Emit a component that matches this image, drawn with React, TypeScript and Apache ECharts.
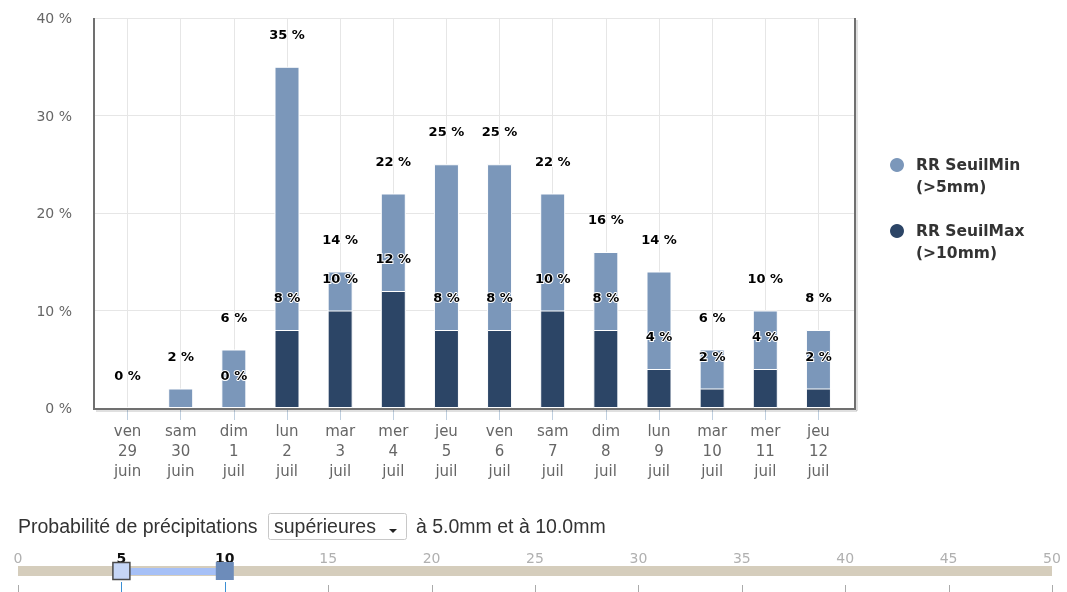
import React, { useEffect, useRef } from "react";
import * as echarts from "echarts";

const categories = [
  "ven\n29\njuin", "sam\n30\njuin", "dim\n1\njuil", "lun\n2\njuil", "mar\n3\njuil",
  "mer\n4\njuil", "jeu\n5\njuil", "ven\n6\njuil", "sam\n7\njuil", "dim\n8\njuil",
  "lun\n9\njuil", "mar\n10\njuil", "mer\n11\njuil", "jeu\n12\njuil",
];
const seuilMin = [0, 2, 6, 35, 14, 22, 25, 25, 22, 16, 14, 6, 10, 8];
const seuilMax = [0, 0, 0, 8, 10, 12, 8, 8, 10, 8, 4, 2, 4, 2];
const seriesNames = ["RR SeuilMin", "RR SeuilMax"];
const seriesSub = ["(>5mm)", "(>10mm)"];
const sliderTicks = [0, 5, 10, 15, 20, 25, 30, 35, 40, 45, 50];
const sliderRange = [5, 10];

const COLOR_MIN = "#7b97ba";
const COLOR_MAX = "#2c4566";
const FONT = "DejaVu Sans";
const FONT2 = "Liberation Sans";

export default function App() {
  const ref = useRef<HTMLDivElement>(null);
  useEffect(() => {
    if (!ref.current) return;
    const chart = echarts.init(ref.current, null, { renderer: "svg" });

    const labelStyle = {
      show: true,
      position: "top",
      distance: 26,
      formatter: "{c} %",
      fontFamily: FONT,
      fontWeight: "bold",
      fontSize: 13,
      color: "#000",
      textBorderColor: "#fff",
      textBorderWidth: 2,
    };

    const maxData = seuilMax.map((v, i) => {
      const d = seuilMin[i] - v;
      if (d > 0 && d < 3) return { value: v, label: { show: false } };
      return v;
    });

    // slider geometry
    const sx0 = 18, sx1 = 1052;
    const sx = (v: number) => sx0 + (v / 50) * (sx1 - sx0);
    const graphics: any[] = [];

    // plot frame (with soft shadow lines)
    const shadowCol = "rgba(0,0,0,0.12)";
    graphics.push({ type: "line", shape: { x1: 857, y1: 20, x2: 857, y2: 411 }, style: { stroke: shadowCol, lineWidth: 2 }, z: 10 });
    graphics.push({ type: "line", shape: { x1: 96, y1: 411, x2: 857, y2: 411 }, style: { stroke: shadowCol, lineWidth: 2 }, z: 10 });
    graphics.push({ type: "line", shape: { x1: 94, y1: 18, x2: 94, y2: 409 }, style: { stroke: "#707070", lineWidth: 2 }, z: 11 });
    graphics.push({ type: "line", shape: { x1: 93, y1: 409, x2: 856, y2: 409 }, style: { stroke: "#707070", lineWidth: 2 }, z: 11 });
    graphics.push({ type: "line", shape: { x1: 855, y1: 18, x2: 855, y2: 410 }, style: { stroke: "#707070", lineWidth: 2 }, z: 11 });

    // legend
    const legendColors = [COLOR_MIN, COLOR_MAX];
    const legendY = [165, 231];
    seriesNames.forEach((n, i) => {
      graphics.push({ type: "circle", shape: { cx: 897, cy: legendY[i], r: 7 }, style: { fill: legendColors[i] } });
      graphics.push({ type: "text", x: 916, y: legendY[i], style: { text: n, fontFamily: FONT, fontWeight: "bold", fontSize: 15.5, fill: "#333", verticalAlign: "middle" } });
      graphics.push({ type: "text", x: 916, y: legendY[i] + 22, style: { text: seriesSub[i], fontFamily: FONT, fontWeight: "bold", fontSize: 15.5, fill: "#333", verticalAlign: "middle" } });
    });

    // bottom controls
    const ctl = { fontFamily: FONT2, fontSize: 19.5, fill: "#333", verticalAlign: "middle" };
    graphics.push({ type: "text", x: 18, y: 526, style: { text: "Probabilité de précipitations", ...ctl } });
    graphics.push({ type: "rect", shape: { x: 268.5, y: 513.5, width: 138, height: 26, r: 2 }, style: { fill: "#fff", stroke: "#c8c8c8", lineWidth: 1 } });
    graphics.push({ type: "text", x: 274, y: 526, style: { text: "supérieures", ...ctl } });
    graphics.push({ type: "polygon", shape: { points: [[389, 529], [397, 529], [393, 533]] }, style: { fill: "#222" } });
    graphics.push({ type: "text", x: 416, y: 526, style: { text: "à 5.0mm et à 10.0mm", ...ctl } });

    // slider
    sliderTicks.forEach((t) => {
      const sel = sliderRange.includes(t);
      graphics.push({
        type: "text", x: sx(t), y: 558,
        style: { text: String(t), fontFamily: FONT, fontSize: 14, fontWeight: sel ? "bold" : "normal", fill: sel ? "#111" : "#b0b0b0", align: "center", verticalAlign: "middle" },
      });
      graphics.push({
        type: "line",
        shape: { x1: Math.round(sx(t)) + 0.5, y1: sel ? 582 : 585, x2: Math.round(sx(t)) + 0.5, y2: 592 },
        style: { stroke: sel ? "#3b8fd4" : "#aaa", lineWidth: 1 },
      });
    });
    graphics.push({ type: "rect", shape: { x: sx0, y: 566, width: sx1 - sx0, height: 10 }, style: { fill: "#d5cdbc" } });
    graphics.push({ type: "rect", shape: { x: sx(sliderRange[0]), y: 568, width: sx(sliderRange[1]) - sx(sliderRange[0]), height: 7 }, style: { fill: "#a6c0f6" } });
    graphics.push({ type: "rect", shape: { x: sx(sliderRange[0]) - 8.5, y: 562.5, width: 17, height: 17 }, style: { fill: "#c6d6f6", stroke: "#4a4a4a", lineWidth: 1.5 } });
    graphics.push({ type: "rect", shape: { x: sx(sliderRange[1]) - 9, y: 562, width: 18, height: 18 }, style: { fill: "#6d8cba" } });

    chart.setOption({
      animation: false,
      grid: [
        { left: 94, right: 212, top: 18, bottom: 184 },
        { left: 101, right: 222, top: 18, bottom: 184 },
      ],
      xAxis: [
        { gridIndex: 0, type: "value", min: 0, max: 1, show: false },
        {
          gridIndex: 1,
          type: "category",
          data: categories,
          axisLine: { show: false },
          axisTick: { show: true, alignWithLabel: true, interval: 0, length: 12, lineStyle: { color: "#c0d0e0" } },
          axisLabel: { interval: 0, color: "#666", fontFamily: FONT, fontSize: 15, lineHeight: 20, margin: 13 },
          splitLine: { show: true, alignWithLabel: true, interval: 0, lineStyle: { color: "#e6e6e6", width: 1 } },
        },
      ],
      yAxis: [
        {
          gridIndex: 0,
          type: "value",
          min: 0,
          max: 40,
          interval: 10,
          axisLine: { show: false },
          axisTick: { show: false },
          axisLabel: { formatter: "{value} %", color: "#666", fontFamily: FONT, fontSize: 14, margin: 22 },
          splitLine: { lineStyle: { color: "#e6e6e6", width: 1 } },
        },
        { gridIndex: 1, type: "value", min: 0, max: 40, interval: 10, show: false },
      ],
      series: [
        {
          name: seriesNames[0],
          type: "bar",
          xAxisIndex: 1,
          yAxisIndex: 1,
          data: seuilMin,
          barWidth: 25,
          barGap: "-100%",
          itemStyle: { color: COLOR_MIN, borderColor: "#fff", borderWidth: 1 },
          label: labelStyle,
          z: 2,
        },
        {
          name: seriesNames[1],
          type: "bar",
          xAxisIndex: 1,
          yAxisIndex: 1,
          data: maxData,
          barWidth: 25,
          barGap: "-100%",
          itemStyle: { color: COLOR_MAX, borderColor: "#fff", borderWidth: 1 },
          label: labelStyle,
          z: 3,
        },
      ],
      graphic: graphics,
    });
    return () => chart.dispose();
  }, []);
  return <div ref={ref} style={{ position: "fixed", left: 0, top: 0, width: 1067, height: 592 }} />;
}
